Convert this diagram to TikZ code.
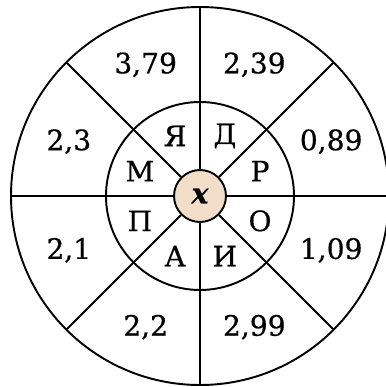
\documentclass[tikz,border=0pt]{standalone}
\usepackage{fontspec}
\setmainfont{DejaVu Serif}[FakeBold=0.6]
\definecolor{corefill}{RGB}{242,222,200}
\tikzset{
    ring/.style={line width=1.1pt},
    cell/.style={font=\fontsize{16}{19}\selectfont,inner sep=1pt}
}
\begin{document}
\begin{tikzpicture}[line width=1.1pt]
    \useasboundingbox (-4.0,-3.82) rectangle (3.7,3.92);
    % rings
    \draw[ring] (0,0) circle (3.78);
    \draw[ring] (0,0) circle (1.88);
    \node[circle,draw,ring,fill=corefill,minimum size=1.04cm,inner sep=0pt,
          font=\fontsize{16}{19}\selectfont\bfseries\itshape] (core) at (0,0) {x};
    % spokes
    \foreach \a in {0,45,...,315}
        \draw (core.\a) -- (\a:3.78);
    % numbers in the outer ring
    \foreach \a/\t [count=\i] in {22.5/{0,89},67.5/{2,39},112.5/{3,79},157.5/{2,3},
                                  202.5/{2,1},247.5/{2,2},292.5/{2,99},337.5/{1,09}}
        \node[cell] (num\i) at (\a:2.84) {\t};
    % letters in the middle ring
    \foreach \a/\t [count=\i] in {22.5/Р,67.5/Д,112.5/Я,157.5/М,
                                  202.5/П,247.5/А,292.5/И,337.5/О}
        \node[cell] (let\i) at (\a:1.3) {\t};
\end{tikzpicture}
\end{document}
